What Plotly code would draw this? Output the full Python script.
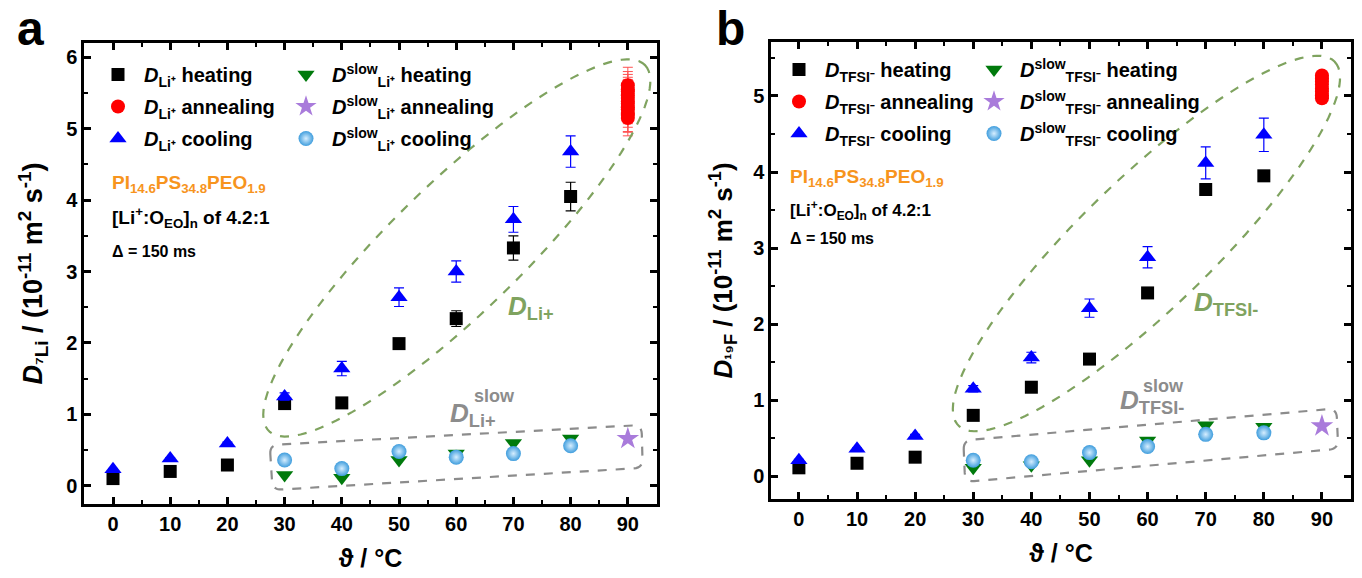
import numpy as np
import plotly.graph_objects as go

W, H = 1362, 578
FONT = "Liberation Sans, Arial, sans-serif"

# ---------------- data ----------------
temps = [0, 10, 20, 30, 40, 50, 60, 70, 80]
slow_temps = [30, 40, 50, 60, 70, 80]
anneal_temp = 90

# panel a (7Li)
a_heat = [0.10, 0.20, 0.29, 1.15, 1.16, 1.99, 2.34, 3.33, 4.05]
a_heat_err = [0.01, 0.01, 0.01, 0.04, 0.03, 0.05, 0.11, 0.17, 0.20]
a_cool = [0.23, 0.38, 0.59, 1.25, 1.64, 2.64, 3.00, 3.73, 4.68]
a_cool_err = [0.01, 0.01, 0.02, 0.05, 0.10, 0.13, 0.15, 0.18, 0.22]
a_anneal = [5.15, 5.19, 5.22, 5.27, 5.30, 5.35, 5.38, 5.43, 5.47, 5.52, 5.55, 5.61]
a_anneal_err = [0.25, 0.24, 0.26, 0.25, 0.23, 0.25, 0.24, 0.26, 0.25, 0.24, 0.25, 0.25]
a_slow_heat = [0.15, 0.11, 0.36, 0.45, 0.60, 0.66]
a_slow_cool = [0.36, 0.24, 0.48, 0.40, 0.45, 0.56]
a_slow_anneal = [0.66]

# panel b (19F)
b_heat = [0.11, 0.17, 0.25, 0.80, 1.17, 1.54, 2.41, 3.77, 3.95]
b_heat_err = [0.01, 0.01, 0.01, 0.02, 0.02, 0.03, 0.03, 0.03, 0.03]
b_cool = [0.21, 0.36, 0.53, 1.15, 1.56, 2.21, 2.88, 4.12, 4.49]
b_cool_err = [0.01, 0.01, 0.02, 0.04, 0.07, 0.12, 0.14, 0.21, 0.22]
b_anneal = [4.97, 5.01, 5.06, 5.10, 5.15, 5.19, 5.23, 5.27]
b_anneal_err = [0.02, 0.02, 0.02, 0.02, 0.02, 0.02, 0.02, 0.02]
b_slow_heat = [0.11, 0.145, 0.21, 0.47, 0.67, 0.65]
b_slow_cool = [0.21, 0.19, 0.31, 0.39, 0.55, 0.57]
b_slow_anneal = [0.66]

x_ticks = [0, 10, 20, 30, 40, 50, 60, 70, 80, 90]

# ---------------- layout geometry ----------------
ax_a = dict(xd=[84 / W, 657 / W], yd=[1 - 504 / H, 1 - 43 / H], xr=[-5.07, 95.1], yr=[-0.256, 6.2])
ax_b = dict(xd=[771 / W, 1351 / W], yd=[1 - 499 / H, 1 - 42 / H], xr=[-4.8, 95.0], yr=[-0.30, 5.71])

C_BLACK, C_RED, C_BLUE = "#000000", "#FF0000", "#0000FF"
C_GREEN, C_PURPLE, C_SPHERE = "#007A0C", "#A97BDB", "#3F9DDD"
C_ORANGE, C_LGREEN, C_GRAY = "#F7941D", "#7FA35F", "#8C8C8C"

fig = go.Figure()


def add_panel(xa, ya, heat, heat_err, cool, cool_err, anneal, anneal_err,
              slow_heat, slow_cool, slow_anneal, ion, lg1, lg2):
    sub = f"<sub>{ion}</sub>"
    fig.add_trace(go.Scatter(
        x=temps, y=heat, mode="markers", xaxis=xa, yaxis=ya,
        name=f"<i>D</i>{sub} heating", legend=lg1, legendgroup=lg1 + "h", legendrank=1,
        marker=dict(symbol="square", size=13, color=C_BLACK),
        error_y=dict(type="data", array=heat_err, color=C_BLACK, thickness=1.2, width=5)))
    fig.add_trace(go.Scatter(
        x=temps, y=cool, mode="markers", xaxis=xa, yaxis=ya,
        name=f"<i>D</i>{sub} cooling", legend=lg1, legendgroup=lg1 + "c", legendrank=3,
        marker=dict(symbol="triangle-up", size=15, color=C_BLUE),
        error_y=dict(type="data", array=cool_err, color=C_BLUE, thickness=1.2, width=5)))
    fig.add_trace(go.Scatter(
        x=[anneal_temp] * len(anneal), y=anneal, mode="markers", xaxis=xa, yaxis=ya,
        name=f"<i>D</i>{sub} annealing", legend=lg1, legendgroup=lg1 + "a", legendrank=2,
        marker=dict(symbol="circle", size=14, color=C_RED),
        error_y=dict(type="data", array=anneal_err, color="#FF5050", thickness=1, width=5)))
    ssub = f"<sup>slow</sup><sub>{ion}</sub>"
    fig.add_trace(go.Scatter(
        x=slow_temps, y=slow_heat, mode="markers", xaxis=xa, yaxis=ya,
        name=f"<i>D</i>{ssub} heating", legend=lg2, legendgroup=lg2 + "h", legendrank=1,
        marker=dict(symbol="triangle-down", size=15, color=C_GREEN)))
    fig.add_trace(go.Scatter(
        x=slow_temps, y=slow_cool, mode="markers", xaxis=xa, yaxis=ya,
        name=f"<i>D</i>{ssub} cooling", legend=lg2, legendgroup=lg2 + "c", legendrank=3,
        marker=dict(symbol="circle", size=15, color=C_SPHERE,
                    gradient=dict(type="radial", color="#D6EEFF"))))
    fig.add_trace(go.Scatter(
        x=[anneal_temp], y=slow_anneal, mode="markers", xaxis=xa, yaxis=ya,
        name=f"<i>D</i>{ssub} annealing", legend=lg2, legendgroup=lg2 + "a", legendrank=2,
        marker=dict(symbol="star", size=17, color=C_PURPLE)))


add_panel("x", "y", a_heat, a_heat_err, a_cool, a_cool_err, a_anneal, a_anneal_err,
          a_slow_heat, a_slow_cool, a_slow_anneal, "Li⁺", "legend", "legend2")
add_panel("x2", "y2", b_heat, b_heat_err, b_cool, b_cool_err, b_anneal, b_anneal_err,
          b_slow_heat, b_slow_cool, b_slow_anneal, "TFSI⁻", "legend3", "legend4")


# ---------------- decorative dashed outlines ----------------
def ellipse_path(c, A, B, n=120):
    t = np.linspace(0, 2 * np.pi, n)
    xs = c[0] + np.cos(t) * A[0] + np.sin(t) * B[0]
    ys = c[1] + np.cos(t) * A[1] + np.sin(t) * B[1]
    return "M " + " L ".join(f"{x:.3f},{y:.4f}" for x, y in zip(xs, ys)) + " Z"


def rounded_quad(corners, ax, r_px=9, n=8):
    sx = W * (ax["xd"][1] - ax["xd"][0]) / (ax["xr"][1] - ax["xr"][0])
    sy = H * (ax["yd"][1] - ax["yd"][0]) / (ax["yr"][1] - ax["yr"][0])
    P = [np.array([x * sx, y * sy]) for x, y in corners]
    pts = []
    k = len(P)
    for i in range(k):
        p0, p1, p2 = P[i - 1], P[i], P[(i + 1) % k]
        d1 = (p0 - p1) / np.linalg.norm(p0 - p1)
        d2 = (p2 - p1) / np.linalg.norm(p2 - p1)
        a = p1 + d1 * r_px
        b = p1 + d2 * r_px
        for tt in np.linspace(0, 1, n):
            q = (1 - tt) ** 2 * a + 2 * (1 - tt) * tt * p1 + tt ** 2 * b
            pts.append(q)
    return "M " + " L ".join(f"{q[0] / sx:.3f},{q[1] / sy:.4f}" for q in pts) + " Z"


shapes = [
    dict(type="path", xref="x", yref="y", path=ellipse_path((60.1, 3.33), (32.9, 2.56), (7.9, -0.65)),
         line=dict(color=C_LGREEN, width=2.2, dash="dash")),
    dict(type="path", xref="x", yref="y",
         path=rounded_quad([(27.4, 0.57), (92.4, 0.85), (92.6, 0.25), (27.9, -0.06)], ax_a),
         line=dict(color=C_GRAY, width=2.2, dash="dash")),
    dict(type="path", xref="x2", yref="y2", path=ellipse_path((59.8, 3.06), (32.4, 2.39), (7.75, -0.62)),
         line=dict(color=C_LGREEN, width=2.2, dash="dash")),
    dict(type="path", xref="x2", yref="y2",
         path=rounded_quad([(28.3, 0.47), (92.5, 0.89), (92.8, 0.36), (28.6, -0.075)], ax_b),
         line=dict(color=C_GRAY, width=2.2, dash="dash")),
]


def px(x, y):
    return x / W, 1 - y / H


def ann(x, y, text, size, color="black", xanchor="left", yanchor="middle"):
    X, Y = px(x, y)
    return dict(x=X, y=Y, xref="paper", yref="paper", text=text, showarrow=False,
                xanchor=xanchor, yanchor=yanchor,
                font=dict(family=FONT, size=size, color=color, weight="bold"))


annotations = [
    ann(30, 0, "a", 48, xanchor="center", yanchor="top"),
    ann(731, 0, "b", 48, xanchor="center", yanchor="top"),
    ann(110, 184, "PI<sub>14.6</sub>PS<sub>34.8</sub>PEO<sub>1.9</sub>", 19, C_ORANGE),
    ann(110, 217, "[Li<sup>+</sup>:O<sub>EO</sub>]<sub>n</sub> of 4.2:1", 19),
    ann(110, 251, "Δ = 150 ms", 16),
    ann(788, 178, "PI<sub>14.6</sub>PS<sub>34.8</sub>PEO<sub>1.9</sub>", 19, C_ORANGE),
    ann(788, 210, "[Li<sup>+</sup>:O<sub>EO</sub>]<sub>n</sub> of 4.2:1", 17),
    ann(788, 238, "Δ = 150 ms", 16),
    ann(506, 307, "<i>D</i><sub>Li+</sub>", 26, C_LGREEN),
    ann(1192, 303, "<i>D</i><sub>TFSI-</sub>", 26, C_LGREEN),
    ann(448, 414, "<i>D</i><sub>Li+</sub>", 26, C_GRAY),
    ann(472, 396, "slow", 18, C_GRAY),
    ann(1118, 401, "<i>D</i><sub>TFSI-</sub>", 26, C_GRAY),
    ann(1141, 386, "slow", 18, C_GRAY),
]

axis_common = dict(
    showline=True, linewidth=2.5, linecolor="black", mirror="ticks",
    ticks="inside", ticklen=7, tickwidth=2.5, tickcolor="black",
    showgrid=False, zeroline=False,
    tickfont=dict(family=FONT, size=20, color="black", weight="bold"),
)

xtitle = dict(text="ϑ / °C", font=dict(family=FONT, size=25, color="black", weight="bold"), standoff=16)
minor_x = dict(dtick=5, tick0=0, ticks="inside", ticklen=4, tickwidth=2, tickcolor="black")
minor_y = dict(dtick=0.5, tick0=0, ticks="inside", ticklen=4, tickwidth=2, tickcolor="black")

layout_axes = dict(
    xaxis=dict(domain=ax_a["xd"], range=ax_a["xr"], anchor="y", tickvals=x_ticks,
               minor=minor_x, title=xtitle, **axis_common),
    yaxis=dict(domain=ax_a["yd"], range=ax_a["yr"], anchor="x", dtick=1, tick0=0, minor=minor_y,
               title=dict(text="<i>D</i><sub>⁷Li</sub> / (10<sup>-11</sup> m<sup>2</sup> s<sup>-1</sup>)",
                          font=dict(family=FONT, size=27, color="black", weight="bold"), standoff=16),
               **axis_common),
    xaxis2=dict(domain=ax_b["xd"], range=ax_b["xr"], anchor="y2", tickvals=x_ticks,
                minor=minor_x, title=xtitle, **axis_common),
    yaxis2=dict(domain=ax_b["yd"], range=ax_b["yr"], anchor="x2", dtick=1, tick0=0, minor=minor_y,
                title=dict(text="<i>D</i><sub>¹⁹F</sub> / (10<sup>-11</sup> m<sup>2</sup> s<sup>-1</sup>)",
                           font=dict(family=FONT, size=26, color="black", weight="bold"), standoff=14),
                **axis_common),
)


def legend_at(x, y):
    X, Y = px(x, y)
    return dict(x=X, y=Y, xanchor="left", yanchor="top", bgcolor="rgba(0,0,0,0)",
                borderwidth=0, tracegroupgap=3, itemwidth=42,
                font=dict(family=FONT, size=20, color="black", weight="bold"))


fig.update_layout(
    width=W, height=H,
    margin=dict(l=0, r=0, t=0, b=0),
    paper_bgcolor="white", plot_bgcolor="white",
    font=dict(family=FONT, color="black"),
    shapes=shapes,
    annotations=annotations,
    legend=legend_at(92, 55),
    legend2=legend_at(280, 55),
    legend3=legend_at(773, 50),
    legend4=legend_at(968, 50),
    **layout_axes,
)

fig.write_html("out.html")
